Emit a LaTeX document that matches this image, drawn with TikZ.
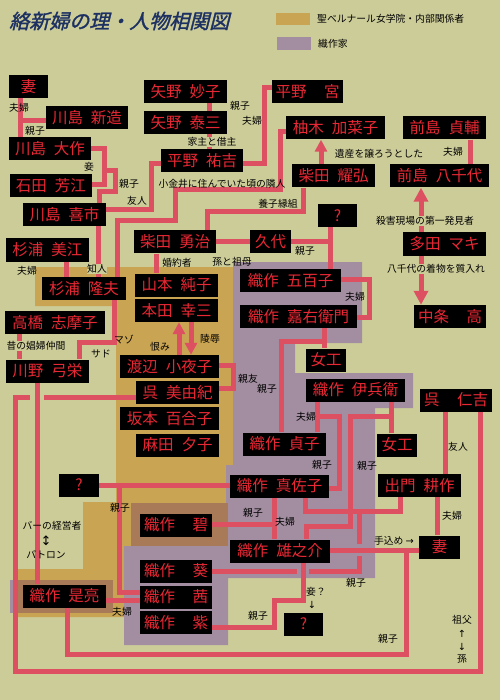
\documentclass[tikz,border=0pt]{standalone}
\usepackage{fontspec}
\setmainfont{Noto Sans CJK JP}
\newfontfamily\symfont{DejaVu Sans}
\newfontfamily\titlefont[FakeSlant=0.25,FakeBold=1.5]{Noto Sans CJK JP}
\usetikzlibrary{arrows.meta}
\definecolor{bgc}{RGB}{204,204,153}
\definecolor{goldc}{RGB}{201,164,82}
\definecolor{purc}{RGB}{162,142,160}
\definecolor{brownc}{RGB}{168,122,88}
\definecolor{lnc}{RGB}{221,80,98}
\definecolor{nred}{RGB}{232,40,52}
\definecolor{titlec}{RGB}{28,48,98}
\newcommand\nmfont{\fontsize{15.5}{16}\selectfont}
\newcommand\lbfont{\fontsize{9.8}{10}\selectfont}
\newcommand\NM[2]{#1\hspace{8pt}#2}
\newcommand\NW[2]{\makebox[64pt]{#1\hfill#2}}
\begin{document}
\begin{tikzpicture}[x=1pt,y=-1pt,
  nm/.style={fill=black,text=nred,font=\nmfont,minimum height=23pt,inner sep=0pt},
  lb/.style={font=\lbfont,inner sep=0pt,text=black},
  lbf/.style={lb,fill=bgc,inner sep=0.5pt},
  ln/.style={draw=lnc,line width=5pt},
  arA/.style={ln,-{Triangle[width=12pt,length=12pt]}},
  arB/.style={ln,-{Triangle[width=14pt,length=14pt]}}]
\useasboundingbox (0,0) rectangle (500,700);
\fill[bgc] (0,0) rectangle (500,700);
% regions
\fill[goldc] (35,267) -- (233,267) -- (233,546) -- (124,546) -- (124,617) -- (18,617) -- (18,569) -- (83,569) -- (83,502) -- (116,502) -- (116,306) -- (35,306) -- cycle;
\fill[purc] (233,262) -- (362,262) -- (362,343) -- (295,343) -- (295,373) -- (413,373) -- (413,408) -- (375,408) -- (375,578) -- (228,578) -- (228,645) -- (124,645) -- (124,546) -- (131,546) -- (131,503) -- (226,503) -- (226,465) -- (233,465) -- cycle;
\fill[brownc] (131,503) rectangle (228,546);
\fill[purc] (10,580) rectangle (18,613);
\fill[brownc] (18,580) rectangle (113,613);
% title and legend
\node[anchor=west,text=titlec,font=\titlefont\fontsize{20}{20}\selectfont,inner sep=0pt] (title) at (9,21) {絡新婦の理・人物相関図};
\fill[goldc] (276,13) rectangle (310,25);
\fill[purc] (277,37) rectangle (311,50);
\node[lb,anchor=west] (leg1) at (317,19) {聖ベルナール女学院・内部関係者};
\node[lb,anchor=west] (leg2) at (318,44) {織作家};
% nodes
\node[nm,minimum width=39pt] (tsuma1) at (28.5,86.5) {妻};
\node[nm,minimum width=82pt] (shinzo) at (87,117.5) {\NM{川島}{新造}};
\node[nm,minimum width=82pt] (daisaku) at (50,148.5) {\NM{川島}{大作}};
\node[nm,minimum width=82pt] (yoshie) at (51,186) {\NM{石田}{芳江}};
\node[nm,minimum width=83pt] (kiichi) at (64.5,214.5) {\NM{川島}{喜市}};
\node[nm,minimum width=83pt] (mie) at (47.5,250) {\NM{杉浦}{美江}};
\node[nm,minimum width=84pt] (takao) at (84,288.5) {\NM{杉浦}{隆夫}};
\node[nm,minimum width=100pt] (shimako) at (55,322.5) {\NM{高橋}{志摩子}};
\node[nm,minimum width=83pt] (yumie) at (47.5,371) {\NM{川野}{弓栄}};
\node[nm,minimum width=83pt] (taeko) at (185.5,91.5) {\NM{矢野}{妙子}};
\node[nm,minimum width=83pt] (taizo) at (185.5,122.5) {\NM{矢野}{泰三}};
\node[nm,minimum width=82pt] (yukichi) at (202,161) {\NM{平野}{祐吉}};
\node[nm,minimum width=71pt] (miya) at (307.5,92) {\NW{平野}{宮}};
\node[nm,minimum width=99pt] (kanako) at (335.5,128) {\NM{柚木}{加菜子}};
\node[nm,minimum width=83pt] (teisuke) at (444.5,128) {\NM{前島}{貞輔}};
\node[nm,minimum width=83pt] (yoko) at (333.5,176) {\NM{柴田}{耀弘}};
\node[nm,minimum width=99pt] (yachiyo) at (439.5,176) {\NM{前島}{八千代}};
\node[nm,minimum width=39pt] (q1) at (337.5,215.5) {?};
\node[nm,minimum width=82pt] (yuji) at (175,242) {\NM{柴田}{勇治}};
\node[nm,minimum width=41pt] (hisayo) at (270.5,242) {久代};
\node[nm,minimum width=83pt] (maki) at (444.5,244) {\NM{多田}{マキ}};
\node[nm,minimum width=72pt] (ko) at (450,316.5) {\NW{中条}{高}};
\node[nm,minimum width=101pt] (isako) at (290.5,280.5) {\NM{織作}{五百子}};
\node[nm,minimum width=117pt] (kaemon) at (298.5,316.5) {\NM{織作}{嘉右衛門}};
\node[nm,minimum width=83pt] (junko) at (176.5,285) {\NM{山本}{純子}};
\node[nm,minimum width=83pt] (kozo) at (176.5,310.5) {\NM{本田}{幸三}};
\node[nm,minimum width=40pt] (joko1) at (326,360) {女工};
\node[nm,minimum width=99pt] (ihee) at (355.5,390) {\NM{織作}{伊兵衛}};
\node[nm,minimum width=72pt] (jinkichi) at (456,400) {\NW{呉}{仁吉}};
\node[nm,minimum width=99pt] (sayoko) at (169.5,366.5) {\NM{渡辺}{小夜子}};
\node[nm,minimum width=83pt] (miyuki) at (177.5,392.5) {\NM{呉}{美由紀}};
\node[nm,minimum width=99pt] (yuriko) at (169.5,418.5) {\NM{坂本}{百合子}};
\node[nm,minimum width=83pt] (yuko) at (177.5,445) {\NM{麻田}{夕子}};
\node[nm,minimum width=83pt] (sadako) at (284.5,444) {\NM{織作}{貞子}};
\node[nm,minimum width=40pt] (joko2) at (397,445) {女工};
\node[nm,minimum width=40pt] (q2) at (79,485) {?};
\node[nm,minimum width=99pt] (masako) at (279.5,486) {\NM{織作}{真佐子}};
\node[nm,minimum width=83pt] (kosaku) at (419.5,485.5) {\NM{出門}{耕作}};
\node[nm,minimum width=72pt] (midori) at (176,525) {\NW{織作}{碧}};
\node[nm,minimum width=100pt] (yunosuke) at (280,551) {\NM{織作}{雄之介}};
\node[nm,minimum width=41pt] (tsuma2) at (439.5,547) {妻};
\node[nm,minimum width=72pt] (aoi) at (176,571) {\NW{織作}{葵}};
\node[nm,minimum width=72pt] (akane) at (176,597) {\NW{織作}{茜}};
\node[nm,minimum width=72pt] (murasaki) at (176,622.5) {\NW{織作}{紫}};
\node[nm,minimum width=83pt] (koresuke) at (64.5,596) {\NM{織作}{是亮}};
\node[nm,minimum width=39pt] (q3) at (303.5,624) {?};
% connectors
\draw[ln] (tsuma1.south -| 20,0) -- (daisaku.north -| 20,0);
\draw[ln] (20,121) -- (shinzo.west |- 0,121);
\draw[ln] (daisaku.east) -| (104,185) -- (yoshie.east |- 0,185);
\draw[ln] (104,171) -| (115,192) -| (kiichi.north -| 99,0);
\draw[ln] (kiichi.east |- 0,210) -| (151,164) -- (yukichi.west |- 0,164);
\draw[ln] (kiichi.south -| 98,0) -- (takao.north -| 98,0);
\draw[ln] (mie.south -| 66,0) -- (takao.north -| 66,0);
\draw[ln] (takao.north -| 117,0) |- (175,221) |- (280,190) |- (kanako.west |- 0,132);
\draw[ln] (takao.south -| 114,0) |- (79,342) -- (yumie.north -| 79,0);
\draw[ln] (shimako.south -| 19,0) -- (yumie.north -| 19,0);
\draw[ln] (taeko.south -| 209,0) -- (taizo.north -| 209,0);
\draw[ln] (taizo.south -| 209,0) -- (yukichi.north -| 209,0);
\draw[ln] (yukichi.east |- 0,164) -| (264,88) -- (miya.west |- 0,88);
\draw[arA] (yoko.north -| 321,0) -- (kanako.south -| 321,0);
\draw[ln] (teisuke.south -| 470,0) -- (yachiyo.north -| 470,0);
\draw[arB] (maki.north -| 421,0) -- (yachiyo.south -| 421,0);
\draw[arB] (maki.south -| 421,0) -- (ko.north -| 421,0);
\draw[ln] (yoko.south -| 303,0) |- (207,212) -- (yuji.north -| 207,0);
\draw[ln] (q1.south -| 330,0) -- (isako.north -| 330,0);
\draw[ln] (hisayo.east) -- (hisayo.east -| 330,0);
\draw[ln] (yuji.east) -- (hisayo.west);
\draw[ln] (yuji.south -| 156,0) -- (junko.north -| 156,0);
\draw[ln] (isako.east |- 0,279) -| (369,317) -- (kaemon.east |- 0,317);
\draw[ln] (kaemon.south -| 324,0) -- (joko1.north -| 324,0);
\draw[ln] (324,341) -| (sadako.north -| 281,0);
\draw[arA] (sayoko.north -| 179,0) -- (kozo.south -| 179,0);
\draw[arA] (kozo.south -| 191,0) -- (sayoko.north -| 191,0);
\draw[ln] (sayoko.east |- 0,365) -| (233,388) -- (miyuki.east |- 0,388);
\draw[ln] (miyuki.west |- 0,397) -| (15,671) -| (jinkichi.south -| 480,0);
\fill[bgc] (30,392) rectangle (44,402);
\draw[ln] (yumie.south -| 37,0) -- (koresuke.north -| 37,0);
\draw[ln] (ihee.south -| 317,0) -- (sadako.north -| 317,0);
\draw[ln] (317,416) -| (339,488) -- (masako.east |- 0,488);
\draw[ln] (ihee.south -| 391,0) -- (joko2.north -| 391,0);
\draw[ln] (391,416) -| (350,526) -| (yunosuke.north -| 306,0);
\draw[ln] (masako.south -| 305,0) |- (400,511) -- (kosaku.south -| 400,0);
\draw[ln] (359,511) |- (aoi.east |- 0,571);
\fill[purc] (352,544) rectangle (366,556);
\fill[purc] (297,566) rectangle (309,576);
\draw[ln] (masako.south -| 274,0) -- (yunosuke.north -| 274,0);
\draw[ln] (midori.east |- 0,524) -- (274,524);
\draw[ln] (yunosuke.east |- 0,550) -- (tsuma2.west |- 0,550);
\draw[ln] (koresuke.south -| 67,0) |- (406,654) -- (406,550);
\draw[ln] (kosaku.south -| 437,0) -- (tsuma2.north -| 437,0);
\draw[ln] (jinkichi.south -| 445,0) -- (kosaku.north -| 445,0);
\draw[ln] (yunosuke.south -| 303,0) |- (274,600) |- (murasaki.east |- 0,627);
\draw[ln] (q2.east) -- (q2.east -| masako.west);
\draw[ln] (119,485) |- (akane.west |- 0,592);
\draw[ln] (koresuke.east |- 0,600) -- (akane.west |- 0,600);
% labels
\node[lb] at (19,108) {夫婦};
\node[lb] at (35,131) {親子};
\node[lb] at (89,167) {妾};
\node[lb] at (129,184) {親子};
\node[lb] at (137,201) {友人};
\node[lb] at (240,106) {親子};
\node[lbf] at (212,142) {家主と借主};
\node[lb] at (252,121) {夫婦};
\node[lb] at (379,154) {遺産を譲ろうとした};
\node[lb] at (453,152) {夫婦};
\node[lb] at (222,184) {小金井に住んでいた頃の隣人};
\node[lb] at (278,204) {養子縁組};
\node[lbf] at (425,221) {殺害現場の第一発見者};
\node[lb] at (305,251) {親子};
\node[lb] at (232,262) {孫と祖母};
\node[lb] at (177,263) {婚約者};
\node[lbf] at (436,269) {八千代の着物を質入れ};
\node[lb] at (27,271) {夫婦};
\node[lbf] at (97,269) {知人};
\node[lb] at (355,297) {夫婦};
\node[lb] at (124,340) {マゾ};
\node[lb] at (210,339) {陵辱};
\node[lbf] at (36,346) {昔の娼婦仲間};
\node[lb] at (160,347) {恨み};
\node[lb] at (101,354) {サド};
\node[lb] at (248,379) {親友};
\node[lb] at (267,389) {親子};
\node[lb] at (306,417) {夫婦};
\node[lb] at (458,447) {友人};
\node[lb] at (322,465) {親子};
\node[lb] at (367,466) {親子};
\node[lb] at (120,508) {親子};
\node[lb] at (253,513) {親子};
\node[lb] at (452,516) {夫婦};
\node[lb] at (285,522) {夫婦};
\node[lb] at (52,526) {バーの経営者};
\node[lb] at (46,541) {\symfont\fontsize{13}{13}\selectfont ↕};
\node[lb] at (46,555) {パトロン};
\node[lb] at (394,541) {手込め {\symfont →}};
\node[lb] at (356,583) {親子};
\node[lb] at (316,592) {妾？};
\node[lb] at (312,605) {\symfont ↓};
\node[lb] at (122,612) {夫婦};
\node[lb] at (258,616) {親子};
\node[lb] at (462,620) {祖父};
\node[lb] at (462,634) {\symfont ↑};
\node[lb] at (462,647) {\symfont ↓};
\node[lb] at (462,659) {孫};
\node[lb] at (388,639) {親子};
\end{tikzpicture}
\end{document}
